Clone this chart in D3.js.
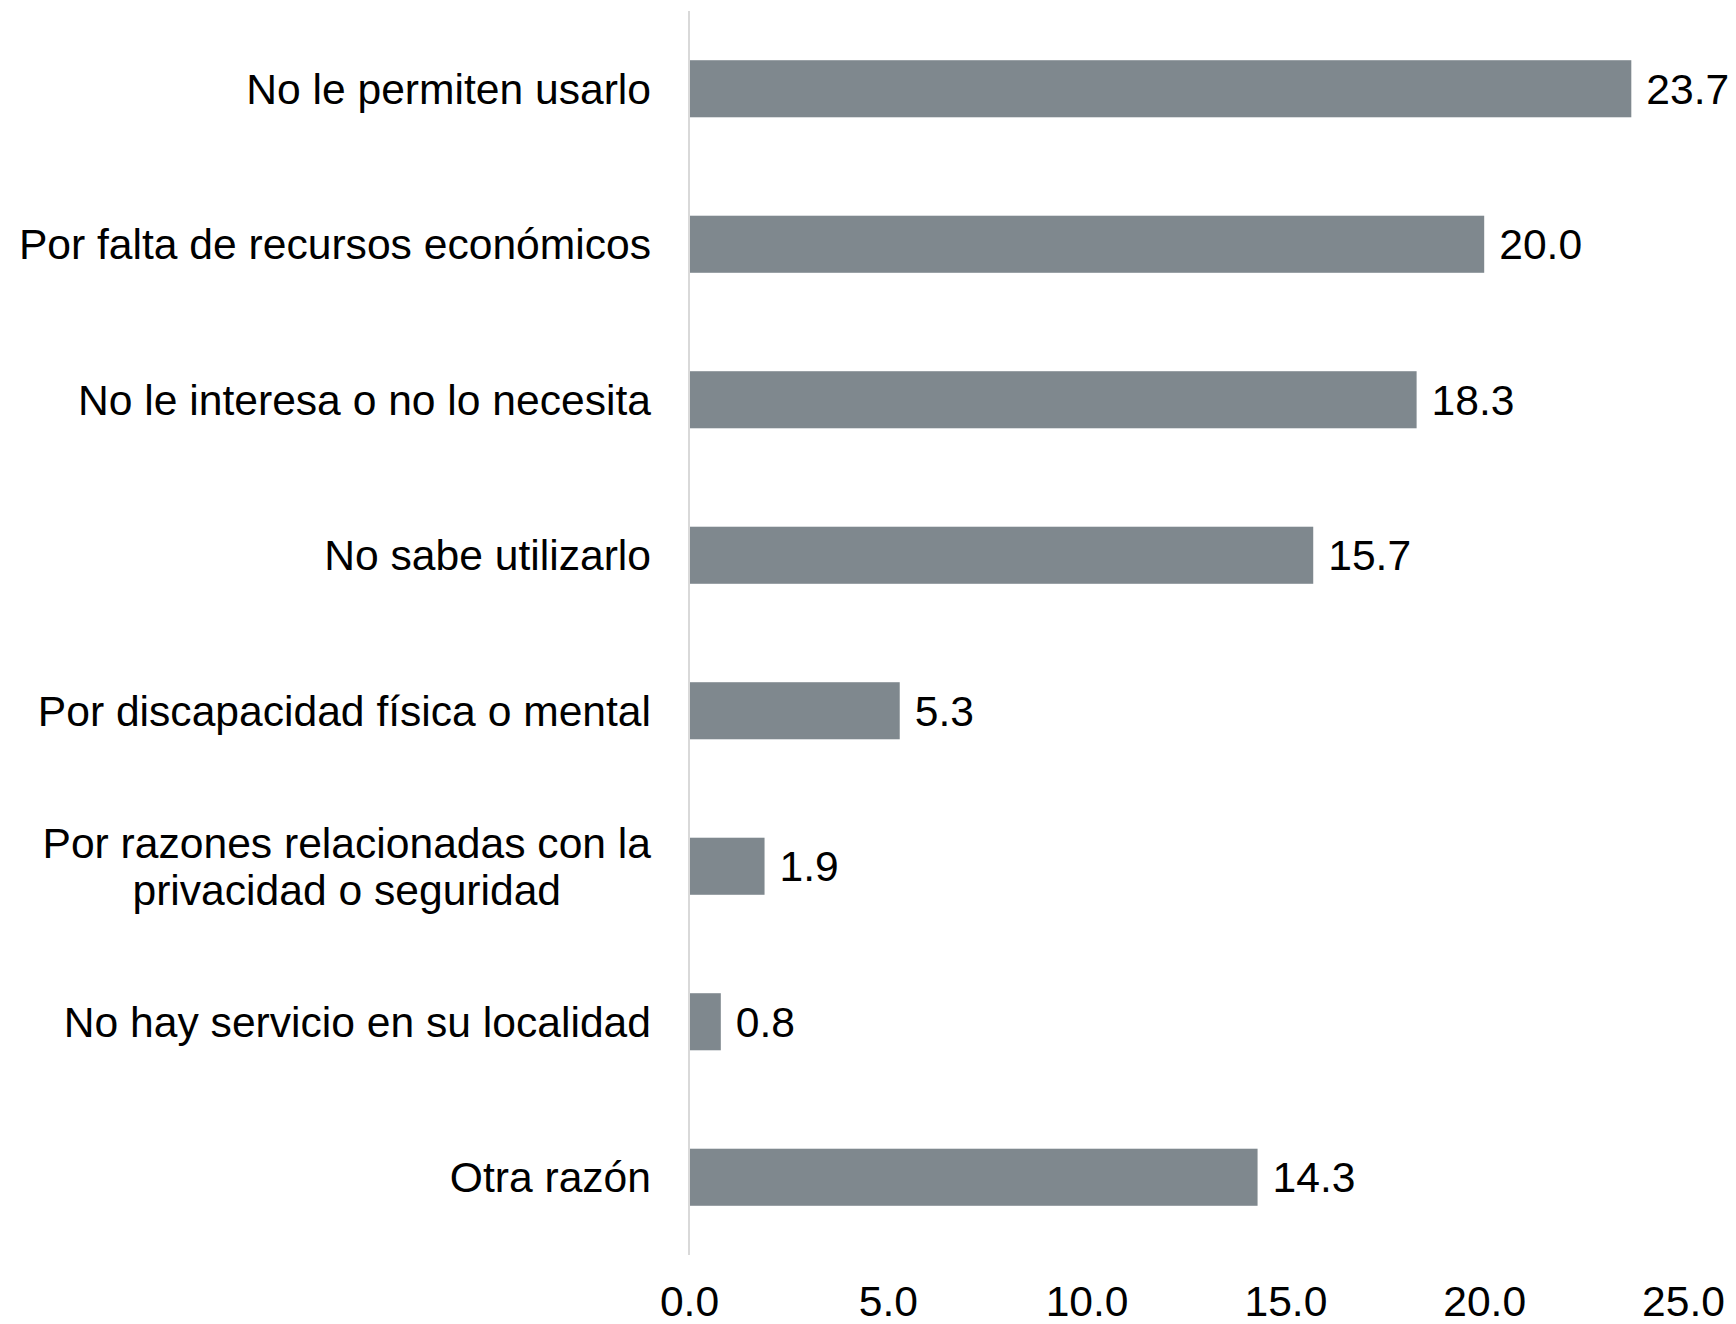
<!DOCTYPE html>
<html>
<head>
<meta charset="utf-8">
<script src="https://cdn.jsdelivr.net/npm/d3@7"></script>
<style>
  html, body { margin: 0; padding: 0; background: #ffffff; }
  svg { display: block; }
</style>
</head>
<body>
<svg id="chart" width="1736" height="1324"></svg>
<script>
// Data
const categories = [
  ["No le permiten usarlo"],
  ["Por falta de recursos económicos"],
  ["No le interesa o no lo necesita"],
  ["No sabe utilizarlo"],
  ["Por discapacidad física o mental"],
  ["Por razones relacionadas con la", "privacidad o seguridad"],
  ["No hay servicio en su localidad"],
  ["Otra razón"]
];
const values = [23.7, 20.0, 18.3, 15.7, 5.3, 1.9, 0.8, 14.3];
const tickValues = [0, 5, 10, 15, 20, 25];

const FONT = "Liberation Sans, Arial, sans-serif";
const svg = d3.select("#chart")
  .style("font-family", FONT);
const FS = 42.6;
const barColor = "#7f888e";

const x = d3.scaleLinear().domain([0, 25]).range([689, 1683]);
const keys = categories.map((c, i) => i);
const y = d3.scaleBand().domain(keys).range([11, 1255]).paddingInner(0.633).paddingOuter(0.3165);

// bars
svg.append("g").selectAll("rect")
  .data(values)
  .join("rect")
  .attr("x", x(0))
  .attr("y", (d, i) => y(i))
  .attr("width", d => x(d) - x(0))
  .attr("height", y.bandwidth())
  .attr("fill", barColor);

// vertical axis line at 0
svg.append("line")
  .attr("x1", x(0)).attr("x2", x(0))
  .attr("y1", 11).attr("y2", 1255)
  .attr("stroke", "#d9d9d9").attr("stroke-width", 2);

// value labels
svg.append("g").selectAll("text")
  .data(values)
  .join("text")
  .attr("x", d => x(d) + 15)
  .attr("y", (d, i) => y(i) + y.bandwidth() / 2 + 15)
  .attr("font-family", FONT)
  .attr("font-size", FS)
  .attr("fill", "#000")
  .text(d => d3.format(".1f")(d));

// category labels
const labelRight = 651;
const lineH = 47;
categories.forEach((lines, i) => {
  const cy = y(i) + y.bandwidth() / 2;
  if (lines.length === 1) {
    svg.append("text")
      .attr("x", labelRight)
      .attr("y", cy + 15)
      .attr("text-anchor", "end")
      .attr("font-family", FONT)
      .attr("font-size", FS)
      .attr("fill", "#000")
      .text(lines[0]);
  } else {
    const t = svg.append("text").attr("font-family", FONT).attr("font-size", FS).text(lines[0]);
    const w = t.node().getComputedTextLength();
    t.remove();
    const cx = labelRight - w / 2;
    const g = svg.append("text")
      .attr("text-anchor", "middle")
      .attr("font-family", FONT)
      .attr("font-size", FS)
      .attr("fill", "#000");
    lines.forEach((ln, k) => {
      g.append("tspan")
        .attr("x", cx)
        .attr("y", cy + 15 + (k - (lines.length - 1) / 2) * lineH)
        .text(ln);
    });
  }
});

// x axis tick labels
const xAxis = d3.axisBottom(x).tickValues(tickValues).tickFormat(d3.format(".1f")).tickSize(0).tickPadding(0);
const ax = svg.append("g").attr("transform", "translate(0,1286)").call(xAxis);
ax.select(".domain").remove();
ax.selectAll("text")
  .attr("font-size", FS)
  .attr("font-family", FONT)
  .attr("fill", "#000")
  .attr("dy", "0.71em");
</script>
</body>
</html>
